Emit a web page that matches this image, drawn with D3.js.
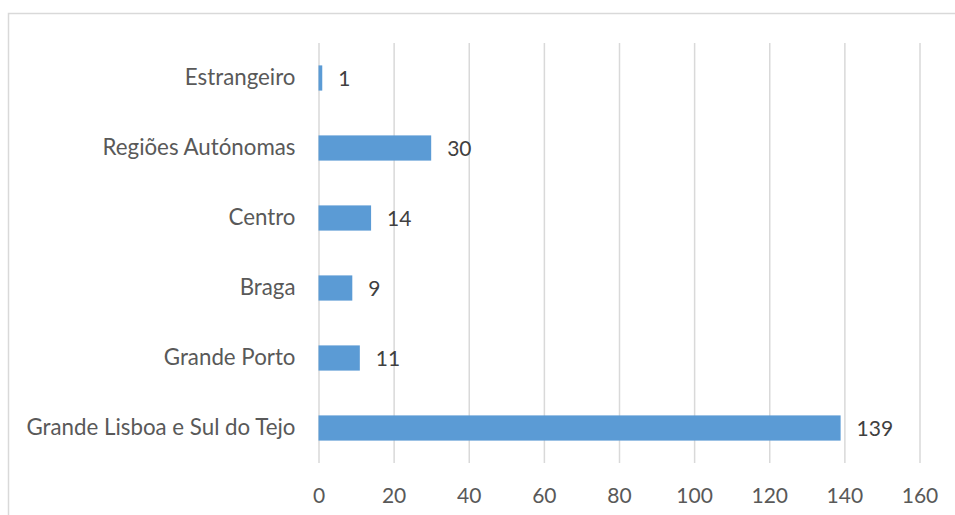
<!DOCTYPE html>
<html><head><meta charset="utf-8">
<script src="https://cdn.jsdelivr.net/npm/d3@7"></script>
<style>body{margin:0;background:#fff}svg{display:block}</style>
</head><body>
<svg id="c" width="955" height="515"></svg>
<script>
const categories = ["Grande Lisboa e Sul do Tejo","Grande Porto","Braga","Centro","Regiões Autónomas","Estrangeiro"];
const values = [139, 11, 9, 14, 30, 1];
const ticks = [0,20,40,60,80,100,120,140,160];

const svg = d3.select("#c");
const font = "Lato, 'Open Sans', sans-serif";
// outer border
svg.append("rect").attr("x",8.5).attr("y",13.5).attr("width",960).attr("height",520)
  .attr("fill","none").attr("stroke","#d9d9d9").attr("stroke-width",1.5);

const x = d3.scaleLinear().domain([0,160]).range([318.5,919.5]);
const y = d3.scaleBand().domain(categories.slice().reverse()).range([43,463]).paddingInner(0.64).paddingOuter(0.32);

const gx = svg.append("g").attr("transform","translate(0,463)")
  .call(d3.axisBottom(x).tickValues(ticks).tickSize(-420).tickFormat(d3.format("d")));
gx.select(".domain").remove();
gx.selectAll("line").attr("stroke","#d9d9d9").attr("stroke-width",1.5);
gx.selectAll("text").attr("fill","#595959").attr("font-family",font).attr("font-size","21px").attr("dy","0").attr("y",40);

const data = categories.map((c,i)=>({c, v: values[i]}));
svg.append("g").selectAll("rect").data(data).join("rect")
  .attr("x",x(0)).attr("y",d=>y(d.c)).attr("width",d=>x(d.v)-x(0)).attr("height",y.bandwidth())
  .attr("fill","#5b9bd5");

svg.append("g").selectAll("text").data(data).join("text")
  .attr("x",d=>x(d.v)+16).attr("y",d=>y(d.c)+y.bandwidth()/2).attr("dy","0.36em")
  .attr("fill","#404040").attr("font-family",font).attr("font-size","21px").text(d=>d.v);

const gy = svg.append("g").attr("transform","translate(318.5,0)")
  .call(d3.axisLeft(y).tickSize(0).tickPadding(23));
gy.select(".domain").remove();
gy.selectAll("text").attr("fill","#595959").attr("font-family",font).attr("font-size","22.3px");
</script>
</body></html>
